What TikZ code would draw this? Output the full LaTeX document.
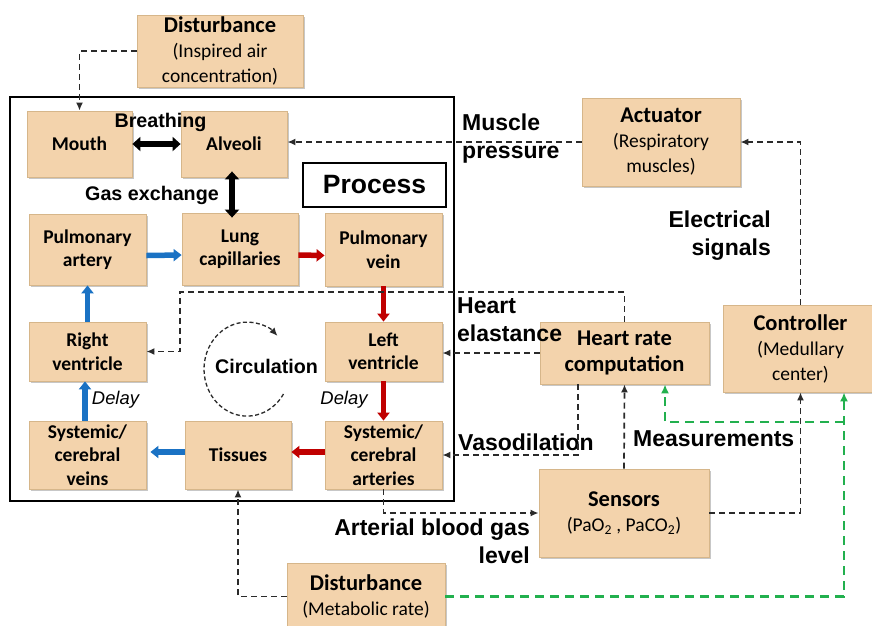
\documentclass[tikz,border=0pt]{standalone}
\usepackage{fontspec}
\setmainfont{Liberation Sans}
\newfontfamily\calib{Carlito}
\usetikzlibrary{arrows.meta,shadows}
\definecolor{boxfill}{HTML}{F3D3AC}
\definecolor{boxedge}{HTML}{D6B68A}
\definecolor{dashc}{HTML}{2A2A2A}
\definecolor{bluec}{HTML}{1A72C4}
\definecolor{redc}{HTML}{C00000}
\definecolor{greenc}{HTML}{22B04E}
\tikzset{
  box/.style={draw=boxedge, fill=boxfill, line width=0.8pt, align=center, inner sep=0pt,
    drop shadow={shadow xshift=1.5pt,shadow yshift=-1.5pt,opacity=0.22,fill=black}},
  pbox/.style={box, font=\calib\bfseries\fontsize{19.5}{23.5}\selectfont},
  obox/.style={box, font=\calib\fontsize{19.5}{25}\selectfont},
  lbl/.style={inner sep=0pt, font=\bfseries\fontsize{23}{28}\selectfont},
  slbl/.style={inner sep=0pt, font=\bfseries\fontsize{19.7}{24}\selectfont},
  dly/.style={inner sep=0pt, font=\itshape\fontsize{18.4}{22}\selectfont},
  dsh/.style={draw=dashc, line width=1.7pt, dash pattern=on 6pt off 4pt, -{Latex[length=8pt,width=7pt]}},
  cdsh/.style={draw=dashc, line width=1.3pt, dash pattern=on 4pt off 2.5pt, -{Latex[length=8pt,width=7pt]}},
  grn/.style={draw=greenc, line width=2.3pt, dash pattern=on 9pt off 6pt, -{Latex[length=9pt,width=8pt]}},
  blk/.style={draw=black, line width=5.5pt, {Triangle[length=8pt,width=14pt]}-{Triangle[length=8pt,width=14pt]}},
  blu/.style={draw=bluec, line width=5.5pt, -{Triangle[length=8pt,width=12pt]}},
  rdd/.style={draw=redc, line width=5.5pt, -{Triangle[length=8pt,width=12pt]}},
}
\begin{document}
\begin{tikzpicture}[x=1pt,y=-1pt]
\useasboundingbox (0,0) rectangle (872,625);
\fill[white] (0,0) rectangle (872,625);

% process frame
\draw[line width=1.6pt] (10,97) rectangle (454,501);

% process boxes
\node[pbox, minimum width=105pt, minimum height=66pt] (mouth) at (79.5,144) {Mouth};
\node[pbox, minimum width=106pt, minimum height=66pt] (alv) at (234,144) {Alveoli};
\node[draw, line width=1.5pt, fill=white, minimum width=143pt, minimum height=44pt, inner sep=0pt,
  font=\bfseries\fontsize{26.5}{30}\selectfont] (procl) at (374.5,185) {Process};
\node[pbox, minimum width=117pt, minimum height=71pt] (pa) at (87.5,249.5) {Pulmonary\\artery};
\node[pbox, minimum width=116pt, minimum height=72pt] (lc) at (240,249) {Lung\\capillaries};
\node[pbox, minimum width=117pt, minimum height=73pt] (pv) at (383.5,249.5) {Pulmonary\\vein};
\node[pbox, minimum width=117pt, minimum height=59pt] (rv) at (87.5,351.5) {Right\\ventricle};
\node[pbox, minimum width=117pt, minimum height=59pt] (lv) at (383.5,351.5) {Left\\ventricle};
\node[pbox, minimum width=117pt, minimum height=68pt] (sv) at (87.5,455) {Systemic/\\cerebral\\veins};
\node[pbox, minimum width=106pt, minimum height=68pt] (tis) at (238,455) {Tissues};
\node[pbox, minimum width=117pt, minimum height=68pt] (sa) at (383.5,455) {Systemic/\\cerebral\\arteries};

% outer boxes
\node[obox, minimum width=166pt, minimum height=72pt] (dtop) at (220,51)
  {{\bfseries\fontsize{22.5}{25}\selectfont Disturbance}\\(Inspired air\\concentration)};
\node[obox, minimum width=158pt, minimum height=88pt] (act) at (661,142)
  {{\bfseries\fontsize{22.5}{25}\selectfont Actuator}\\(Respiratory\\muscles)};
\node[obox, minimum width=169pt, minimum height=62pt, font=\calib\bfseries\fontsize{22.5}{26}\selectfont] (hr) at (624.5,353)
  {Heart rate\\computation};
\node[obox, minimum width=155pt, minimum height=87pt] (ctrl) at (800.5,348.5)
  {{\bfseries\fontsize{22.5}{25}\selectfont Controller}\\(Medullary\\center)};
\node[obox, minimum width=170pt, minimum height=88pt] (sens) at (624,513)
  {{\bfseries\fontsize{22.5}{26}\selectfont Sensors}\\(PaO\textsubscript{2} , PaCO\textsubscript{2})};
\node[obox, minimum width=158pt, minimum height=67pt] (dbot) at (366,596.5)
  {{\bfseries\fontsize{22.5}{25}\selectfont Disturbance}\\(Metabolic rate)};

% labels
\node[slbl] (breath) at (160.5,122) {Breathing};
\node[slbl] (gasx) at (152,195) {Gas exchange};
\node[slbl] (circ) at (266.5,366) {Circulation};
\node[dly] (d1) at (115.5,400) {Delay};
\node[dly] (d2) at (344,400) {Delay};
\node[lbl, anchor=west, align=left] (musc) at (462,139) {Muscle\\pressure};
\node[lbl, anchor=east, align=right] (elec) at (771,236) {Electrical\\signals};
\node[lbl, anchor=west, align=left] (hel) at (457,320) {Heart\\elastance};
\node[lbl, anchor=west] (vaso) at (458,442) {Vasodilation};
\node[lbl, anchor=west] (meas) at (633,439) {Measurements};
\node[lbl, anchor=east, align=right] (abg) at (530,541) {Arterial blood gas\\level};

% thick flows
\draw[blk] (mouth.east) -- (alv.west);
\draw[blk, shorten <=-6pt, shorten >=-5pt] ([xshift=-2pt]alv.south) -- ([xshift=-2pt]alv.south |- lc.north);
\draw[blu] ([yshift=-6pt]pa.east) -- ([yshift=-6pt]lc.west);
\draw[rdd] ([yshift=-6pt]lc.east) -- ([yshift=-6pt]pv.west);
\draw[rdd] (pv.south) -- (lv.north);
\draw[rdd] (lv.south) -- (sa.north);
\draw[rdd] ([yshift=3pt]sa.west) -- ([yshift=3pt]tis.east);
\draw[blu, shorten >=4pt] ([yshift=3pt]tis.west) -- ([yshift=3pt]sv.east);
\draw[blu] ([xshift=-2.5pt]sv.north) -- ([xshift=-2.5pt]rv.south);
\draw[blu] (rv.north) -- (pa.south);

% circulation arrow
\coordinate (cc) at (247,369);
\draw[cdsh] ([xshift=36.5pt,yshift=-25pt]cc) arc[start angle=32,end angle=315,x radius=43,y radius=47];

% dashed signals
\coordinate (hx) at (180,292);
\coordinate (vx) at (578,0);
\coordinate (g1) at (844,422);
\draw[dsh] (dtop.west) -| (mouth.north);
\draw[dsh] (act.west) -- (act.west -| alv.east);
\draw[dsh] (ctrl.north) |- (act.east);
\draw[dsh] (hr.north) |- (hx) |- (rv.east);
\draw[dsh] (hr.west) -- (hr.west -| lv.east);
\draw[dsh] (hr.south -| vx) |- (sa.east);
\draw[dsh] (sens.north) -- (hr.south);
\draw[dsh] (sens.east) -| (ctrl.south);
\draw[dsh] (sa.south) |- (sens.west);
\draw[dsh] (dbot.west) -| (tis.south);

% green
\draw[grn] (dbot.east) -| (g1 |- ctrl.south);
\draw[grn] (g1) -| ([xshift=40.5pt]hr.south);
\end{tikzpicture}
\end{document}
